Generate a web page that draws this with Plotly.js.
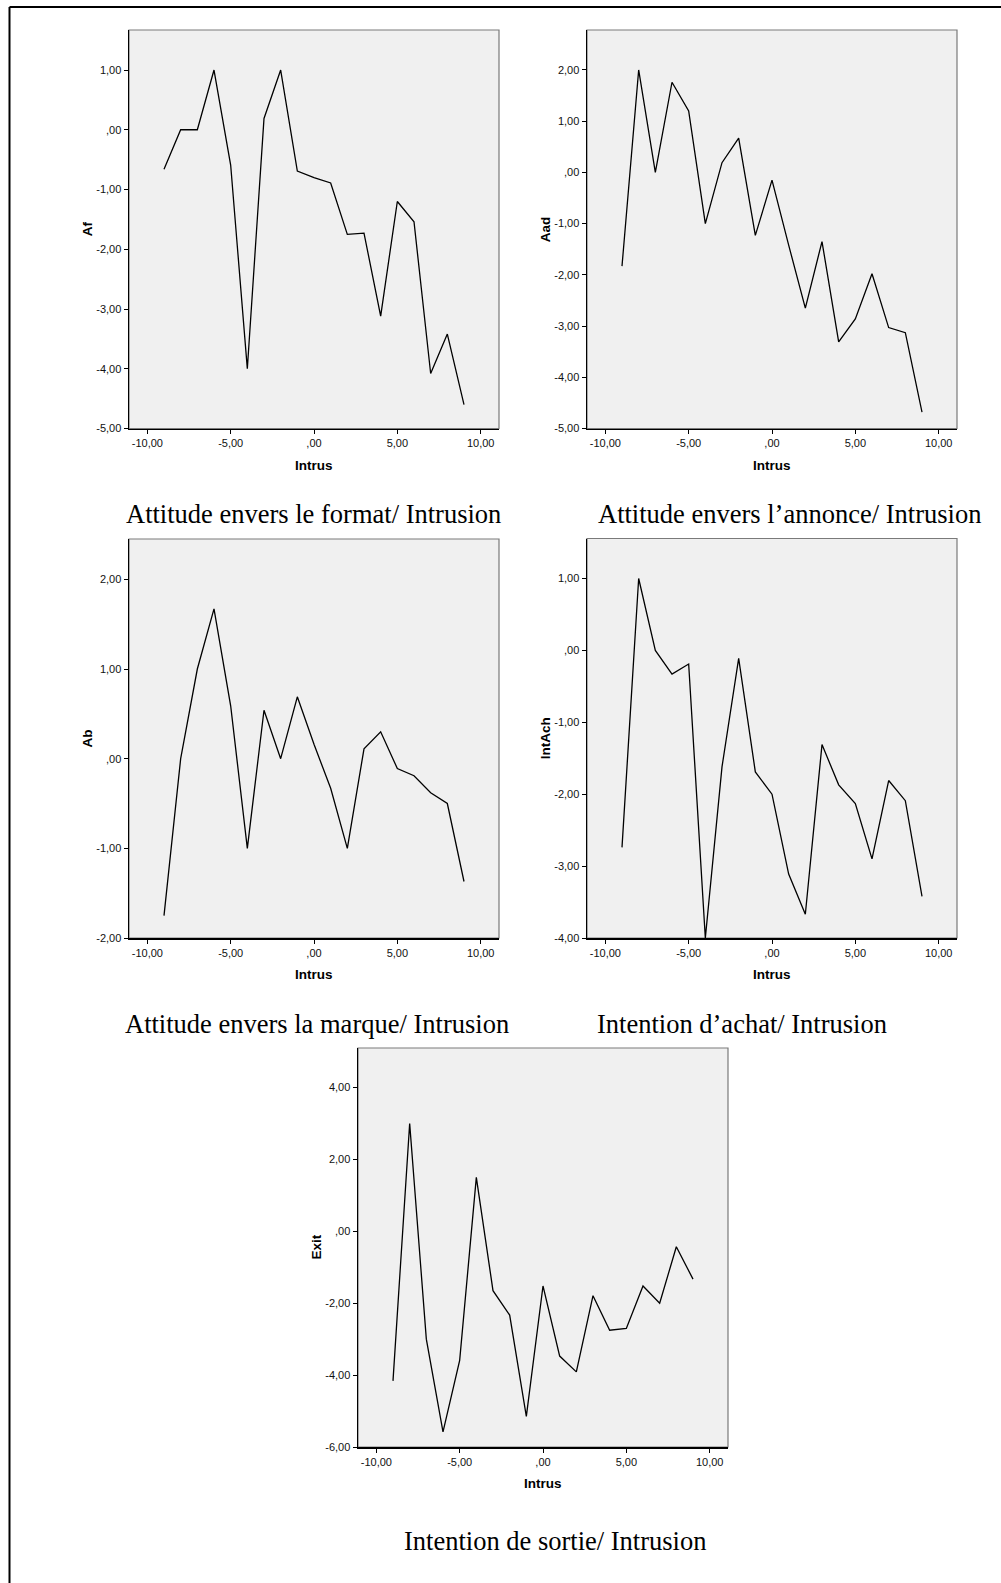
<!DOCTYPE html>
<html>
<head>
<meta charset="utf-8">
<script src="https://cdn.plot.ly/plotly-3.0.1.min.js"></script>
<style>
html,body{margin:0;padding:0;background:#fff;}
#chart{width:1001px;height:1583px;}
</style>
</head>
<body>
<div id="chart"></div>
<script>
// ---- data ----
const intrus = [-9, -8, -7, -6, -5, -4, -3, -2, -1, 0, 1, 2, 3, 4, 5, 6, 7, 8, 9];
const af     = [-0.66, 0.00, 0.00, 1.00, -0.59, -4.00, 0.19, 1.00, -0.69, -0.80, -0.89, -1.75, -1.73, -3.12, -1.20, -1.54, -4.08, -3.42, -4.60];
const aad    = [-1.83, 2.00, 0.00, 1.76, 1.20, -1.00, 0.19, 0.67, -1.23, -0.15, -1.42, -2.65, -1.35, -3.31, -2.86, -1.98, -3.03, -3.13, -4.68];
const ab     = [-1.75, 0.00, 1.00, 1.67, 0.59, -1.00, 0.54, 0.00, 0.69, 0.16, -0.33, -1.00, 0.11, 0.30, -0.11, -0.19, -0.38, -0.50, -1.37];
const intAch = [-2.74, 1.00, 0.00, -0.33, -0.19, -4.00, -1.62, -0.11, -1.69, -2.00, -3.11, -3.67, -1.31, -1.87, -2.13, -2.90, -1.81, -2.09, -3.42];
const exitV  = [-4.16, 3.00, -3.00, -5.58, -3.59, 1.50, -1.65, -2.33, -5.15, -1.52, -3.47, -3.91, -1.79, -2.75, -2.70, -1.52, -2.00, -0.43, -1.33];

const xTickVals = [-10, -5, 0, 5, 10];
const xTickText = ["-10,00", "-5,00", ",00", "5,00", "10,00"];

const afTickVals = [-5, -4, -3, -2, -1, 0, 1];
const afTickText = ["-5,00", "-4,00", "-3,00", "-2,00", "-1,00", ",00", "1,00"];
const aadTickVals = [-5, -4, -3, -2, -1, 0, 1, 2];
const aadTickText = ["-5,00", "-4,00", "-3,00", "-2,00", "-1,00", ",00", "1,00", "2,00"];
const abTickVals = [-2, -1, 0, 1, 2];
const abTickText = ["-2,00", "-1,00", ",00", "1,00", "2,00"];
const intAchTickVals = [-4, -3, -2, -1, 0, 1];
const intAchTickText = ["-4,00", "-3,00", "-2,00", "-1,00", ",00", "1,00"];
const exitTickVals = [-6, -4, -2, 0, 2, 4];
const exitTickText = ["-6,00", "-4,00", "-2,00", ",00", "2,00", "4,00"];

const yTitles = ["Af", "Aad", "Ab", "IntAch", "Exit"];
const xTitle = "Intrus";
const captions = [
  "Attitude envers le format/ Intrusion",
  "Attitude envers l\u2019annonce/ Intrusion",
  "Attitude envers la marque/ Intrusion",
  "Intention d\u2019achat/ Intrusion",
  "Intention de sortie/ Intrusion"
];

// ---- layout geometry (pixels) ----
const W = 1001, H = 1583;
const panels = [
  {x0: 129, x1: 499, y0: 30,   y1: 428.5, yr: [-5, 1.67],  tv: afTickVals,     tt: afTickText,     y: af},
  {x0: 587, x1: 957, y0: 30,   y1: 428.5, yr: [-5, 2.78],  tv: aadTickVals,    tt: aadTickText,    y: aad},
  {x0: 129, x1: 499, y0: 539,  y1: 938,   yr: [-2, 2.45],  tv: abTickVals,     tt: abTickText,     y: ab},
  {x0: 587, x1: 957, y0: 538.5,y1: 938,   yr: [-4, 1.556], tv: intAchTickVals, tt: intAchTickText, y: intAch},
  {x0: 358, x1: 728, y0: 1048, y1: 1447,  yr: [-6, 5.1],   tv: exitTickVals,   tt: exitTickText,   y: exitV}
];
const capPos = [
  {x: 313.5, y: 514}, {x: 789, y: 514}, {x: 317, y: 1024}, {x: 742, y: 1024}, {x: 555.5, y: 1541}
];

const px = v => v / W;
const py = v => 1 - v / H;

const tickFont = {family: "Liberation Sans, Arial, sans-serif", size: 11, color: "#111"};
const titleFont = {family: "Liberation Sans, Arial, sans-serif", size: 13.5, color: "#000", weight: 700};
const capFont = {family: "Liberation Serif, Times New Roman, serif", size: 26.5, color: "#000"};

const traces = [];
const layout = {
  width: W, height: H,
  margin: {l: 0, r: 0, t: 0, b: 0, pad: 0},
  paper_bgcolor: "#ffffff",
  plot_bgcolor: "#f0f0f0",
  showlegend: false,
  shapes: [],
  annotations: []
};

panels.forEach((p, i) => {
  const n = i + 1;
  const xa = n === 1 ? "x" : "x" + n;
  const ya = n === 1 ? "y" : "y" + n;
  traces.push({
    type: "scatter", mode: "lines",
    x: intrus, y: p.y,
    xaxis: xa, yaxis: ya,
    line: {color: "#000", width: 1.3},
    hoverinfo: "skip"
  });
  layout[n === 1 ? "xaxis" : "xaxis" + n] = {
    domain: [px(p.x0), px(p.x1)],
    anchor: ya,
    range: [-11.1, 11.1],
    tickmode: "array", tickvals: xTickVals, ticktext: xTickText,
    ticks: "outside", ticklen: 4, tickwidth: 1, tickcolor: "#000",
    showline: true, linecolor: "#000", linewidth: 1.5,
    showgrid: false, zeroline: false,
    tickfont: tickFont, fixedrange: true
  };
  layout[n === 1 ? "yaxis" : "yaxis" + n] = {
    domain: [py(p.y1), py(p.y0)],
    anchor: xa,
    range: p.yr,
    tickmode: "array", tickvals: p.tv, ticktext: p.tt,
    ticks: "outside", ticklen: 4, tickwidth: 1, tickcolor: "#000",
    showline: true, linecolor: "#000", linewidth: 1.5,
    showgrid: false, zeroline: false,
    tickfont: tickFont, fixedrange: true
  };
  // gray frame around plot area
  layout.shapes.push({
    type: "rect", xref: xa + " domain", yref: ya + " domain",
    x0: 0, x1: 1, y0: 0, y1: 1,
    line: {color: "#7a7a7a", width: 1.2}, fillcolor: "rgba(0,0,0,0)", layer: "below"
  });
  // x-axis title
  layout.annotations.push({
    xref: "paper", yref: "paper",
    x: px((p.x0 + p.x1) / 2), y: py(p.y1 + 36.5),
    xanchor: "center", yanchor: "middle",
    text: xTitle, showarrow: false, font: titleFont
  });
  // y-axis title
  layout.annotations.push({
    xref: "paper", yref: "paper",
    x: px(p.x0 - 42), y: py((p.y0 + p.y1) / 2),
    xanchor: "center", yanchor: "middle", textangle: -90,
    text: yTitles[i], showarrow: false, font: titleFont
  });
  // caption
  layout.annotations.push({
    xref: "paper", yref: "paper",
    x: px(capPos[i].x), y: py(capPos[i].y),
    xanchor: "center", yanchor: "middle",
    text: captions[i], showarrow: false, font: capFont
  });
});

// outer page border (top and left)
layout.shapes.push({type: "line", xref: "paper", yref: "paper",
  x0: px(9.5), x1: 1, y0: py(7), y1: py(7), line: {color: "#000", width: 2}});
layout.shapes.push({type: "line", xref: "paper", yref: "paper",
  x0: px(9.5), x1: px(9.5), y0: py(7), y1: 0, line: {color: "#000", width: 2}});

Plotly.newPlot("chart", traces, layout, {staticPlot: true, displayModeBar: false});
</script>
</body>
</html>
